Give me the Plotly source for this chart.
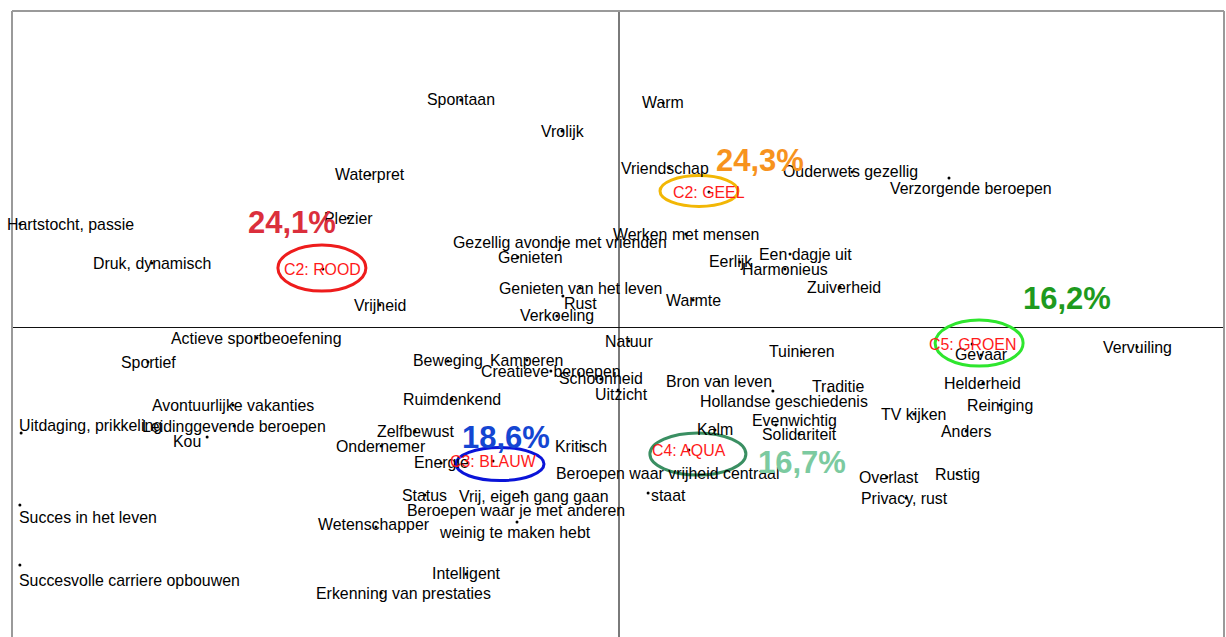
import plotly.graph_objects as go

# ---------------- data (correspondence-map coordinates) -------------
words = [
    "Spontaan", "Vrolijk", "Warm", "Waterpret", "Vriendschap", "Ouderwets gezellig",
    "Verzorgende beroepen", "Hartstocht, passie", "Plezier", "Werken met mensen",
    "Gezellig avondje met vrienden", "Genieten", "Een dagje uit", "Eerlijk", "Harmonieus",
    "Zuiverheid", "Druk, dynamisch", "Genieten van het leven", "Rust", "Warmte", "Vrijheid",
    "Verkoeling", "Actieve sportbeoefening", "Natuur", "Tuinieren", "Gevaar", "Vervuiling",
    "Sportief", "Beweging", "Kamperen", "Creatieve beroepen", "Schoonheid", "Uitzicht",
    "Bron van leven", "Hollandse geschiedenis", "Traditie", "Helderheid",
    "Avontuurlijke vakanties", "Ruimdenkend", "Reiniging", "TV kijken",
    "Uitdaging, prikkeling", "Leidinggevende beroepen", "Evenwichtig", "Solidariteit",
    "Kalm", "Anders", "Zelfbewust", "Kou", "Ondernemer", "Kritisch", "Energie",
    "Beroepen waar vrijheid centraal staat", "Rustig", "Overlast", "Status",
    "Vrij, eigen gang gaan", "Privacy, rust", "Succes in het leven",
    "Beroepen waar je met anderen weinig te maken hebt", "Wetenschapper",
    "Succesvolle carriere opbouwen", "Intelligent", "Erkenning van prestaties",
]
word_x = [
    -0.527, -0.190, 0.147, -0.830, 0.167, 0.777,
    1.100, -1.997, -0.903, 0.223,
    -0.197, -0.337, 0.570, 0.403, 0.553,
    0.737, -1.557, -0.130, -0.187, 0.247, -0.797,
    -0.207, -1.207, 0.033, 0.610, 1.207, 1.727,
    -1.570, -0.570, -0.307, -0.227, -0.060, -0.003,
    0.333, 0.513, 0.700, 1.213,
    -1.287, -0.557, 1.270, 0.983,
    -1.993, -1.283, 0.523, 0.600,
    0.320, 1.157, -0.680, -1.373, -0.793, -0.120, -0.593,
    0.097, 1.127, 0.893, -0.647,
    -0.323, 0.957, -1.997,
    -0.340, -0.810,
    -1.997, -0.510, -0.793,
]
word_y = [
    0.757, 0.653, 0.747, 0.507, 0.530, 0.517,
    0.497, 0.343, 0.363, 0.310,
    0.283, 0.233, 0.243, 0.217, 0.193,
    0.133, 0.213, 0.130, 0.103, 0.090, 0.073,
    0.037, -0.037, -0.047, -0.083, -0.093, -0.067,
    -0.117, -0.113, -0.110, -0.147, -0.173, -0.210,
    -0.183, -0.213, -0.213, -0.187,
    -0.260, -0.240, -0.260, -0.290,
    -0.353, -0.330, -0.327, -0.357,
    -0.343, -0.347, -0.347, -0.367, -0.397, -0.397, -0.453,
    -0.553, -0.490, -0.500, -0.560,
    -0.550, -0.570, -0.593,
    -0.650, -0.667,
    -0.793, -0.823, -0.887,
]

clusters = ["C2: ROOD", "C2: GEEL", "C3: BLAUW", "C4: AQUA", "C5: GROEN"]
cluster_x = [-0.987, 0.300, -0.420, 0.233, 1.177]
cluster_y = [0.193, 0.450, -0.447, -0.410, -0.057]
cluster_share = ["24,1%", "24,3%", "18,6%", "16,7%", "16,2%"]

# ---------------- styling -------------
FONT = "Arial, 'Liberation Sans', sans-serif"
FS = 15.9
PX = 1 / 300.0  # data units per screen pixel (used only for pixel-sized decorations)

ellipse_color = ["#ee1c1c", "#f2b705", "#0a14d8", "#3a8f62", "#2ee62e"]
share_color = ["#db2f3c", "#f7931e", "#1446d2", "#7ccaa0", "#1e9a1e"]
# ellipse: (dx, dy, rx, ry) in pixels relative to the cluster point
ellipse_geom = [(-1, -1, 44, 23), (-10, -1, 39, 15.5), (7, 3, 44, 16.5),
                (9, 4, 48, 21), (7, -1, 44, 23)]
share_offset = [(-31, -47), (51, -32), (13, -24), (113, 12), (95, -46)]

# label offsets (dx right, dy down, anchor) in pixels
label_style = {
    "Verzorgende beroepen": [(None, 22, 11, "center")],
    "Hartstocht, passie": [(None, -15, 0, "left")],
    "Genieten": [(None, 13, 0, "center")],
    "Een dagje uit": [(None, 15, 0, "center")],
    "Eerlijk": [(None, -9, 0, "center")],
    "Zuiverheid": [(None, 4, 0, "center")],
    "Rust": [(None, 18, 7, "center")],
    "Uitzicht": [(None, 3, 4, "center")],
    "Hollandse geschiedenis": [(None, 11, 11, "center")],
    "Traditie": [(None, 9, -4, "center")],
    "Uitdaging, prikkeling": [(None, -4, -7, "left")],
    "Evenwichtig": [(None, 19, -5, "center")],
    "Kou": [(None, -20, 4, "center")],
    "Kritisch": [(None, -2, 0, "center")],
    "Vrij, eigen gang gaan": [(None, 12, 4, "center")],
    "Succes in het leven": [(None, -3, 13, "left")],
    "Succesvolle carriere opbouwen": [(None, -3, 16, "left")],
    "Wetenschapper": [(None, -2, -3, "center")],
    "Erkenning van prestaties": [(None, 22, 0, "center")],
    "Overlast": [(None, 2, 0, "center")],
    "Privacy, rust": [(None, -2, 0, "center")],
    "Ouderwets gezellig": [(None, -2, 0, "center")],
    "Vriendschap": [(None, -4, 0, "center")],
    "Beroepen waar vrijheid centraal staat": [
        ("Beroepen waar vrijheid centraal", 19, -19, "center"),
        ("staat", 1, 3, "left")],
    "Beroepen waar je met anderen weinig te maken hebt": [
        ("Beroepen waar je met anderen", -1, -12, "center"),
        ("weinig te maken hebt", -2, 10, "center")],
}

fig = go.Figure()

# points
fig.add_trace(go.Scatter(
    x=word_x + cluster_x, y=word_y + cluster_y, mode="markers",
    marker=dict(size=3, color="black"), hoverinfo="skip", showlegend=False,
    cliponaxis=False))

annotations = []
for w, wx, wy in zip(words, word_x, word_y):
    for txt, dx, dy, anc in label_style.get(w, [(None, 0, 0, "center")]):
        annotations.append(dict(
            x=wx, y=wy, xref="x", yref="y", text=txt if txt else w, showarrow=False,
            xanchor=anc, yanchor="middle", xshift=dx, yshift=-dy,
            font=dict(family=FONT, size=FS, color="black")))

shapes = []
for i, (c, cx, cy) in enumerate(zip(clusters, cluster_x, cluster_y)):
    dx, dy, rx, ry = ellipse_geom[i]
    shapes.append(dict(
        type="circle", xref="x", yref="y",
        x0=cx + (dx - rx) * PX, x1=cx + (dx + rx) * PX,
        y0=cy - (dy + ry) * PX, y1=cy - (dy - ry) * PX,
        line=dict(color=ellipse_color[i], width=3), layer="above"))
    annotations.append(dict(
        x=cx, y=cy, xref="x", yref="y", text=c, showarrow=False,
        xanchor="center", yanchor="middle",
        font=dict(family=FONT, size=FS, color="#ff1a1a")))
    sx, sy = share_offset[i]
    annotations.append(dict(
        x=cx, y=cy, xref="x", yref="y", text="<b>%s</b>" % cluster_share[i],
        showarrow=False, xanchor="center", yanchor="middle", xshift=sx, yshift=-sy,
        font=dict(family=FONT, size=31, color=share_color[i])))

# frame: left, top and right edges (the bottom edge lies outside the picture)
frame = dict(color="#9a9a9a", width=2)
for x0, y0, x1, y1 in [(0, 0, 0, 1), (0, 1, 1, 1), (1, 0, 1, 1)]:
    shapes.append(dict(type="line", xref="paper", yref="paper",
                       x0=x0, y0=y0, x1=x1, y1=y1, line=frame, layer="above"))

fig.update_layout(
    width=1226, height=637, autosize=False,
    margin=dict(l=12, r=2, t=11, b=0, pad=0),
    paper_bgcolor="white", plot_bgcolor="white",
    annotations=annotations, shapes=shapes,
    xaxis=dict(range=[-2.02333, 2.01667], showgrid=False, showticklabels=False,
               ticks="", zeroline=True, zerolinecolor="#7a7a7a", zerolinewidth=1.5,
               fixedrange=True),
    yaxis=dict(range=[-1.03333, 1.05333], showgrid=False, showticklabels=False,
               ticks="", zeroline=True, zerolinecolor="#111111", zerolinewidth=1.2,
               fixedrange=True),
)

fig.write_html(
    "out.html",
    config={"displayModeBar": False},
    post_script="document.body.style.margin='0';document.body.style.overflow='hidden';",
)
